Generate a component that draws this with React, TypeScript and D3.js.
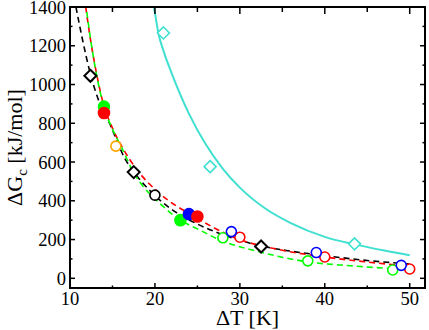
import React from "react";
import * as d3 from "d3";

// fitted curves
const blackFitX = [10.7, 11.5, 12.4, 13.5, 14.65, 16.5, 17.5, 20, 22.5, 25, 28, 32.5, 36, 40, 45, 50];
const blackFitY = [1400, 1226, 1055, 903, 800, 615, 550, 427, 340, 280, 225, 167, 140, 117, 92, 74];

const redFitX = [11.85, 12.4, 13.0, 13.9, 15.0, 16.1, 17.8, 20.5, 24.5, 30, 35, 40, 45, 50];
const redFitY = [1400, 1235, 1085, 905, 775, 680, 565, 440, 322, 200, 145, 110, 84, 62];

const greenFitX = [11.9, 12.4, 13.0, 13.98, 15.0, 16.0, 17.5, 18.6, 20.5, 23, 25, 28, 32, 38, 43, 48];
const greenFitY = [1400, 1240, 1080, 886, 770, 682, 545, 475, 390, 300, 255, 192, 140, 85, 65, 50];

const cyanFitX = [19.8, 20.0, 20.4, 21, 22, 24, 26, 28, 30, 33, 36, 40, 43.5, 47, 50];
const cyanFitY = [1420, 1370, 1266, 1175, 1055, 850, 690, 565, 468, 360, 285, 214, 175, 143, 119];

// data points
const blackDiamondX = [12.4, 17.5, 32.5];
const blackDiamondY = [1045, 548, 164];
const blackCircleX = [20];
const blackCircleY = [429];
const cyanDiamondX = [21, 26.5, 43.5];
const cyanDiamondY = [1266, 576, 178];
const orangeOpenX = [15.4];
const orangeOpenY = [682];
const greenFilledX = [14, 23];
const greenFilledY = [886, 300];
const blueFilledX = [24];
const blueFilledY = [331];
const redFilledX = [14, 25];
const redFilledY = [853, 319];
const greenOpenX = [28, 38, 48];
const greenOpenY = [209, 90, 43];
const redOpenX = [30, 40, 50];
const redOpenY = [212, 110, 48];
const blueOpenX = [29, 39, 49];
const blueOpenY = [241, 133, 67];

const xTicks = [10, 20, 30, 40, 50];
const yTicks = [0, 200, 400, 600, 800, 1000, 1200, 1400];

const W = 429;
const H = 330;
const FONT = "'Liberation Serif', 'Times New Roman', serif";
const left = 70, right = 425, top = 7, bottom = 288;

const x = d3.scaleLinear().domain([10, 51.8]).range([left, right]);
const y = d3.scaleLinear().domain([-50, 1400]).range([bottom, top]);

const zip = (xs: number[], ys: number[]) => xs.map((v, i) => [v, ys[i]] as [number, number]);

const line = d3
  .line<[number, number]>()
  .x((d) => x(d[0]))
  .y((d) => y(d[1]))
  .curve(d3.curveMonotoneX);

const diamond = (cx: number, cy: number, r: number) =>
  `M${cx},${cy - r}L${cx + r},${cy}L${cx},${cy + r}L${cx - r},${cy}Z`;

export default function App() {
  const xMinor = d3.range(10, 51.8, 5);
  const yMinor = d3.range(0, 1401, 100);

  const circles = (xs: number[], ys: number[], color: string, filled: boolean) =>
    zip(xs, ys).map((d, i) => (
      <circle
        key={color + filled + i}
        cx={x(d[0])}
        cy={y(d[1])}
        r={filled ? 5.5 : 5}
        fill={filled ? color : "white"}
        stroke={color}
        strokeWidth={1.6}
      />
    ));

  const diamonds = (xs: number[], ys: number[], color: string, sw: number) =>
    zip(xs, ys).map((d, i) => (
      <path
        key={color + i}
        d={diamond(x(d[0]), y(d[1]), 6)}
        fill="white"
        stroke={color}
        strokeWidth={sw}
      />
    ));

  return (
    <svg
      width={W}
      height={H}
      style={{ position: "absolute", left: 0, top: 0, background: "white" }}
      fontFamily={FONT}
    >
      <defs>
        <clipPath id="plot">
          <rect x={left} y={top} width={right - left} height={bottom - top} />
        </clipPath>
      </defs>

      <g clipPath="url(#plot)" fill="none">
        <path d={line(zip(cyanFitX, cyanFitY)) || ""} stroke="#40e0d0" strokeWidth={2} />
        <path d={line(zip(blackFitX, blackFitY)) || ""} stroke="black" strokeWidth={1.6} strokeDasharray="6,4" />
        <path d={line(zip(redFitX, redFitY)) || ""} stroke="red" strokeWidth={1.6} strokeDasharray="6,4" />
        <path
          d={line(zip(greenFitX, greenFitY)) || ""}
          stroke="#00ff00"
          strokeWidth={1.6}
          strokeDasharray="6,4"
          strokeDashoffset={5}
        />
      </g>

      {diamonds(cyanDiamondX, cyanDiamondY, "#40e0d0", 1.6)}
      {circles(orangeOpenX, orangeOpenY, "orange", false)}
      {circles(greenOpenX, greenOpenY, "#00ff00", false)}
      {circles(redOpenX, redOpenY, "red", false)}
      {circles(blueOpenX, blueOpenY, "blue", false)}
      {circles(greenFilledX, greenFilledY, "#00ff00", true)}
      {circles(blueFilledX, blueFilledY, "blue", true)}
      {circles(redFilledX, redFilledY, "red", true)}
      {circles(blackCircleX, blackCircleY, "black", false)}
      {diamonds(blackDiamondX, blackDiamondY, "black", 2)}

      {/* ticks */}
      <g stroke="black" strokeWidth={1.5}>
        {xMinor.map((t) => {
          const major = t % 10 === 0;
          return (
            <g key={"xt" + t}>
              <line x1={x(t)} x2={x(t)} y1={bottom} y2={bottom - (major ? 5 : 2.5)} />
              <line x1={x(t)} x2={x(t)} y1={top} y2={top + (major ? 7 : 5)} />
            </g>
          );
        })}
        {yMinor.map((t) => {
          const major = t % 200 === 0;
          return (
            <g key={"yt" + t}>
              <line x1={left} x2={left + (major ? 5 : 2.5)} y1={y(t)} y2={y(t)} />
              <line x1={right} x2={right - (major ? 5 : 2.5)} y1={y(t)} y2={y(t)} />
            </g>
          );
        })}
      </g>

      <rect x={left} y={top} width={right - left} height={bottom - top} fill="none" stroke="black" strokeWidth={2} />

      {xTicks.map((t) => (
        <text key={"xl" + t} x={x(t)} y={305} fontSize={18.5} textAnchor="middle">
          {t}
        </text>
      ))}
      {yTicks.map((t) => (
        <text key={"yl" + t} x={66} y={y(t) + 6.5} fontSize={18.5} textAnchor="end">
          {t}
        </text>
      ))}

      <text x={(left + right) / 2} y={325} fontSize={22} textAnchor="middle">
        ΔT [K]
      </text>
      <text transform={`translate(22, ${(top + bottom) / 2}) rotate(-90)`} fontSize={22} textAnchor="middle">
        ΔG<tspan fontSize={15} dy={5}>c</tspan>
        <tspan dy={-5}> [kJ/mol]</tspan>
      </text>
    </svg>
  );
}
